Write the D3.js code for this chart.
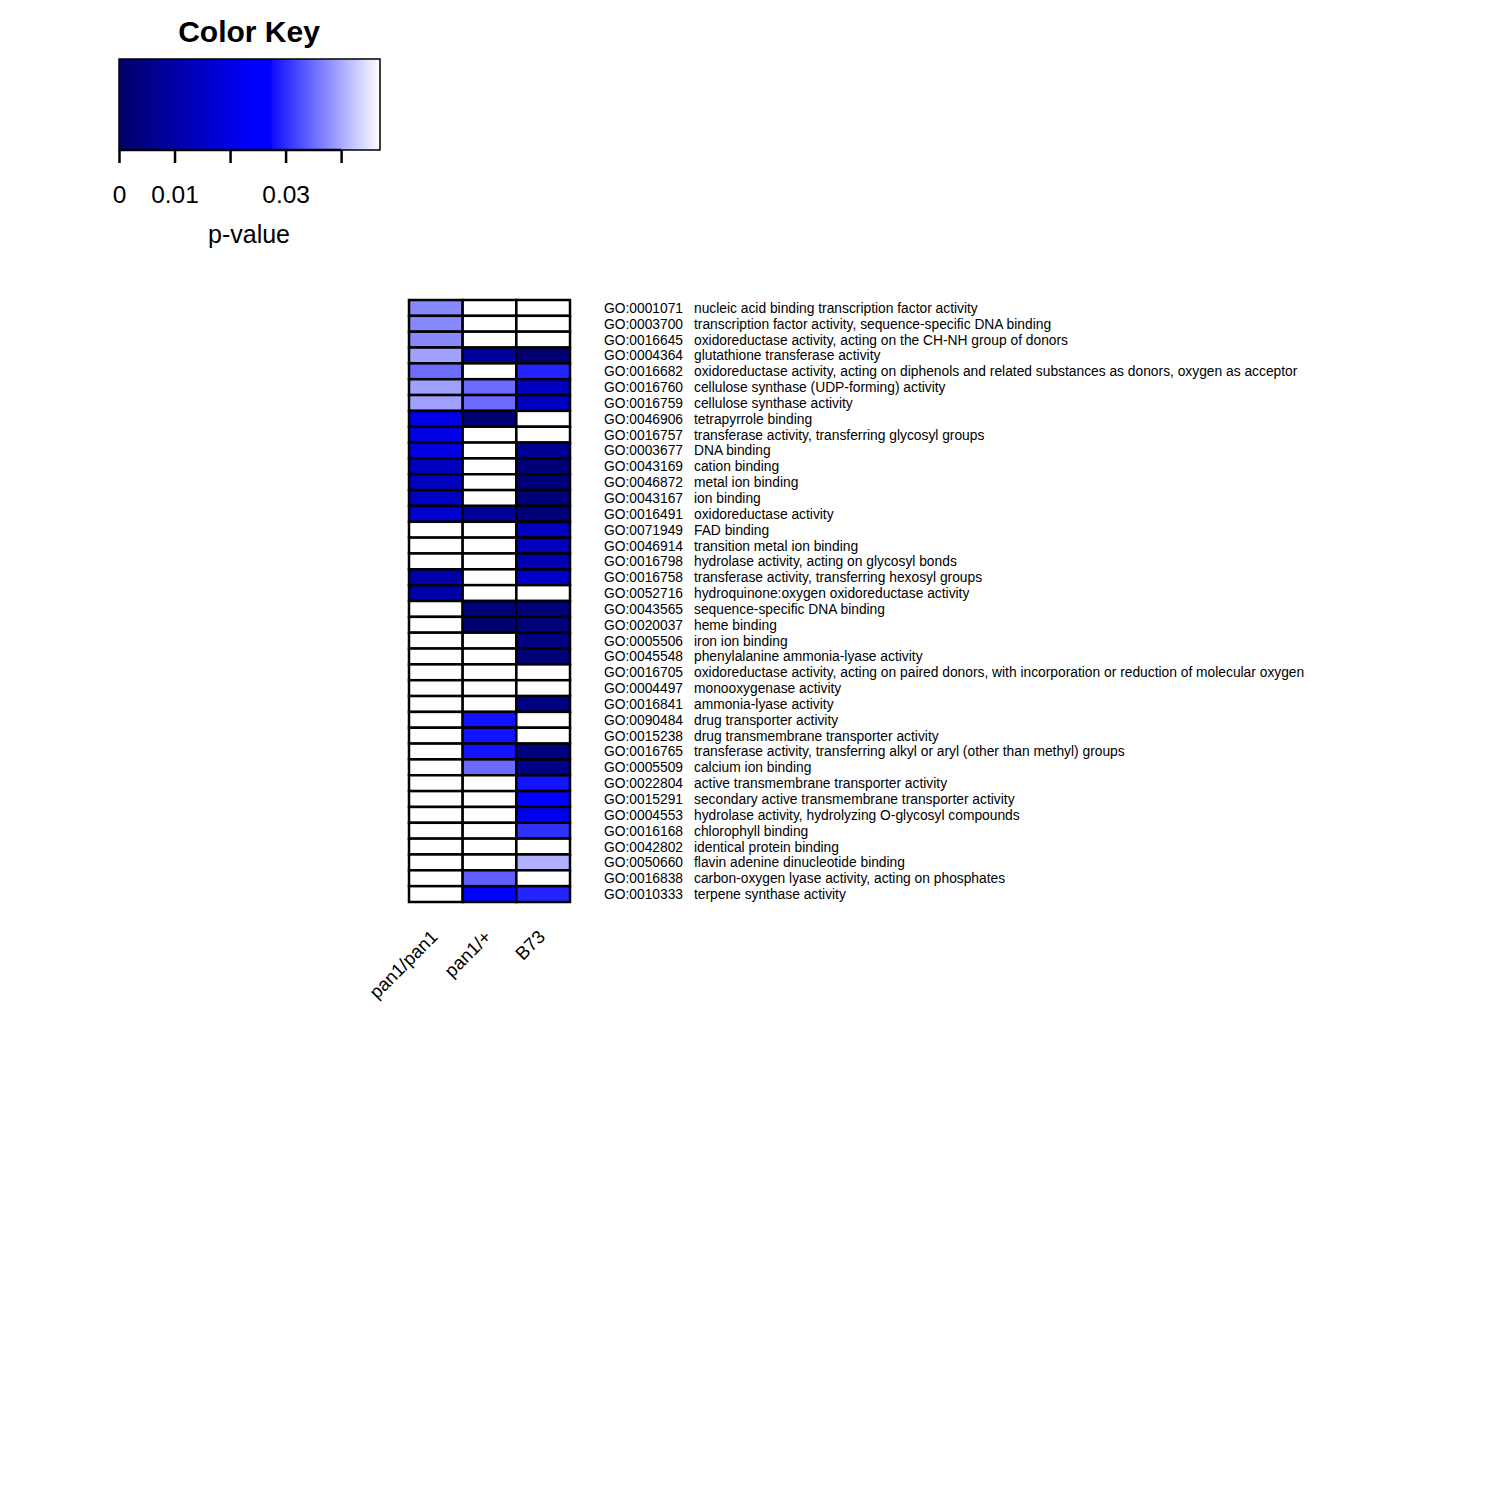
<!DOCTYPE html>
<html lang="en">
<head>
<meta charset="UTF-8">
<style>
    body {margin: 0; background: #ffffff;}
    text {font-family: "Liberation Sans", Arial, sans-serif; fill: #000;}
</style>
</head>
<body>
<div id="chart"></div>
<script src="https://d3js.org/d3.v7.min.js"></script>
<script>

// columns of the heatmap
var samples = ["pan1/pan1", "pan1/+", "B73"];

// GO terms, top to bottom
var goIds = ["GO:0001071", "GO:0003700", "GO:0016645", "GO:0004364", "GO:0016682",
    "GO:0016760", "GO:0016759", "GO:0046906", "GO:0016757", "GO:0003677",
    "GO:0043169", "GO:0046872", "GO:0043167", "GO:0016491", "GO:0071949",
    "GO:0046914", "GO:0016798", "GO:0016758", "GO:0052716", "GO:0043565",
    "GO:0020037", "GO:0005506", "GO:0045548", "GO:0016705", "GO:0004497",
    "GO:0016841", "GO:0090484", "GO:0015238", "GO:0016765", "GO:0005509",
    "GO:0022804", "GO:0015291", "GO:0004553", "GO:0016168", "GO:0042802",
    "GO:0050660", "GO:0016838", "GO:0010333"];

var goNames = ["nucleic acid binding transcription factor activity",
    "transcription factor activity, sequence-specific DNA binding",
    "oxidoreductase activity, acting on the CH-NH group of donors",
    "glutathione transferase activity",
    "oxidoreductase activity, acting on diphenols and related substances as donors, oxygen as acceptor",
    "cellulose synthase (UDP-forming) activity",
    "cellulose synthase activity",
    "tetrapyrrole binding",
    "transferase activity, transferring glycosyl groups",
    "DNA binding",
    "cation binding",
    "metal ion binding",
    "ion binding",
    "oxidoreductase activity",
    "FAD binding",
    "transition metal ion binding",
    "hydrolase activity, acting on glycosyl bonds",
    "transferase activity, transferring hexosyl groups",
    "hydroquinone:oxygen oxidoreductase activity",
    "sequence-specific DNA binding",
    "heme binding",
    "iron ion binding",
    "phenylalanine ammonia-lyase activity",
    "oxidoreductase activity, acting on paired donors, with incorporation or reduction of molecular oxygen",
    "monooxygenase activity",
    "ammonia-lyase activity",
    "drug transporter activity",
    "drug transmembrane transporter activity",
    "transferase activity, transferring alkyl or aryl (other than methyl) groups",
    "calcium ion binding",
    "active transmembrane transporter activity",
    "secondary active transmembrane transporter activity",
    "hydrolase activity, hydrolyzing O-glycosyl compounds",
    "chlorophyll binding",
    "identical protein binding",
    "flavin adenine dinucleotide binding",
    "carbon-oxygen lyase activity, acting on phosphates",
    "terpene synthase activity"];

// p-values per sample (null = not enriched, drawn white)
var pPan1Pan1 = [0.0373, 0.0373, 0.0373, 0.0393, 0.0351, 0.0393, 0.0393, 0.0200, 0.0200, 0.0191,
    0.0141, 0.0141, 0.0141, 0.0166, null, null, null, 0.0104, 0.0104, null,
    null, null, null, null, null, null, null, null, null, null,
    null, null, null, null, null, null, null, null];
var pPan1Het = [null, null, null, 0.0082, null, 0.0349, 0.0349, 0.0016, null, null,
    null, null, null, 0.0082, null, null, null, null, null, 0.0028,
    0.0016, null, null, null, null, null, 0.0278, 0.0278, 0.0278, 0.0349,
    null, null, null, null, null, null, 0.0341, 0.0250];
var pB73 = [null, null, null, 0.0016, 0.0292, 0.0141, 0.0141, null, null, 0.0066,
    0.0028, 0.0028, 0.0028, 0.0028, 0.0141, 0.0129, 0.0116, 0.0154, null, 0.0028,
    0.0028, 0.0041, 0.0028, null, null, 0.0041, null, null, 0.0041, 0.0053,
    0.0278, 0.0250, 0.0216, 0.0302, null, 0.0406, null, 0.0292];

// colour key ticks
var keyTicks = [0, 0.01, 0.02, 0.03, 0.04];
var keyTickLabels = ["0", "0.01", "", "0.03", ""];
var keyMax = 0.047;

var values = [pPan1Pan1, pPan1Het, pB73];

var svg = d3.select("#chart").append("svg")
    .attr("width", 1500)
    .attr("height", 1500);

// navy -> blue -> white ramp
var color = d3.scaleLinear()
    .domain([0, 0.024, 0.0275, 0.0276, keyMax])
    .range(["#000066", "#0000ff", "#0000ff", "#1010ff", "#ffffff"])
    .clamp(true);

// ---- colour key ----
var kx = d3.scaleLinear().domain([0, keyMax]).range([119, 380]);
var kTop = 59, kBottom = 150;

var grad = svg.append("defs").append("linearGradient")
    .attr("id", "keygrad")
    .attr("x1", "0%").attr("x2", "100%").attr("y1", "0%").attr("y2", "0%");
d3.range(0, 101).forEach(function (i) {
    var v = keyMax * i / 100;
    grad.append("stop")
        .attr("offset", i + "%")
        .attr("stop-color", color(v));
});

svg.append("rect")
    .attr("x", kx(0))
    .attr("y", kTop)
    .attr("width", kx(keyMax) - kx(0))
    .attr("height", kBottom - kTop)
    .attr("fill", "url(#keygrad)")
    .attr("stroke", "#000")
    .attr("stroke-width", 1.5);

var keyAxis = svg.append("g")
    .attr("transform", "translate(0," + kBottom + ")")
    .call(d3.axisBottom(kx).tickValues(keyTicks).tickSize(13)
        .tickFormat(function (d, i) { return keyTickLabels[i]; }));
keyAxis.select(".domain").attr("stroke-width", 2.5).attr("d", "M" + kx(0) + ",0H" + kx(0.04));
keyAxis.selectAll(".tick line").attr("stroke-width", 2.5);
keyAxis.selectAll(".tick text")
    .attr("y", 36)
    .attr("dy", "0.71em")
    .style("font-size", "24.5px")
    .style("font-family", "Liberation Sans, Arial, sans-serif");

svg.append("text")
    .attr("x", 249).attr("y", 42)
    .attr("text-anchor", "middle")
    .style("font-size", "30px")
    .style("font-weight", "bold")
    .text("Color Key");

svg.append("text")
    .attr("x", 249).attr("y", 243)
    .attr("text-anchor", "middle")
    .style("font-size", "25px")
    .text("p-value");

// ---- heatmap ----
var x = d3.scaleBand().domain(samples).range([409, 570]);
var y = d3.scaleBand().domain(goIds).range([300, 902]);

var cells = [];
samples.forEach(function (s, j) {
    goIds.forEach(function (g, i) {
        cells.push({sample: s, go: g, p: values[j][i]});
    });
});

svg.append("g").selectAll("rect")
    .data(cells)
    .enter().append("rect")
    .attr("x", function (d) { return x(d.sample); })
    .attr("y", function (d) { return y(d.go); })
    .attr("width", x.bandwidth())
    .attr("height", y.bandwidth())
    .attr("fill", function (d) { return d.p === null ? "#ffffff" : color(d.p); })
    .attr("stroke", "#000")
    .attr("stroke-width", 2.5);

// row labels
var rowLab = svg.append("g");
rowLab.selectAll(".goid")
    .data(goIds)
    .enter().append("text")
    .attr("x", 604)
    .attr("y", function (d) { return y(d) + y.bandwidth() / 2; })
    .attr("dy", "0.36em")
    .style("font-size", "13.8px")
    .text(function (d) { return d; });
rowLab.selectAll(".goname")
    .data(goNames)
    .enter().append("text")
    .attr("x", 694)
    .attr("y", function (d, i) { return y(goIds[i]) + y.bandwidth() / 2; })
    .attr("dy", "0.36em")
    .style("font-size", "13.8px")
    .text(function (d) { return d; });

// column labels
svg.append("g").selectAll("text")
    .data(samples)
    .enter().append("text")
    .attr("transform", function (d) {
        return "translate(" + (x(d) + x.bandwidth() / 2 + 3) + ",938) rotate(-45)";
    })
    .attr("text-anchor", "end")
    .style("font-size", "18.5px")
    .text(function (d) { return d; });

</script>
</body>
</html>
